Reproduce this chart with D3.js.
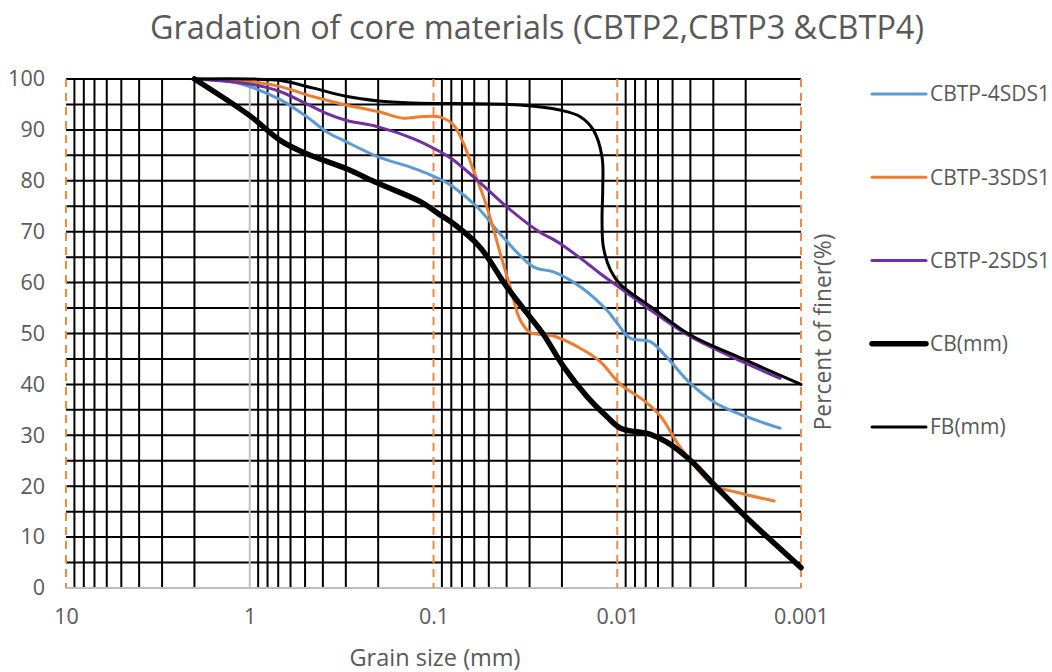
<!DOCTYPE html>
<html>
<head>
<meta charset="utf-8">
<script src="https://cdn.jsdelivr.net/npm/d3@7/dist/d3.min.js"></script>
<style>
  html, body { margin: 0; padding: 0; background: #fff; }
  svg { display: block; font-family: "Open Sans", "Noto Sans", sans-serif; }
</style>
</head>
<body>
<svg id="chart" width="1052" height="672"></svg>
<script>
// Grain size (mm) and percent finer for each sample
const cbtp4Size = [2, 1.28, 1, 0.68, 0.49, 0.38, 0.3, 0.2, 0.129, 0.092, 0.078, 0.058, 0.042, 0.0286, 0.0222, 0.0159, 0.0114, 0.01, 0.0085, 0.0066, 0.0054, 0.004, 0.0029, 0.002, 0.0013];
const cbtp4Pct  = [100, 99.5, 98.5, 95.9, 92.6, 89.6, 87.7, 84.7, 82.5, 80.3, 78.8, 74.9, 69, 63.1, 62.1, 59.2, 54.6, 52, 49.1, 48.4, 45.4, 40.2, 36.3, 33.7, 31.4];

const cbtp3Size = [2, 1, 0.68, 0.45, 0.3, 0.2, 0.146, 0.118, 0.092, 0.078, 0.0688, 0.0607, 0.0535, 0.0481, 0.0434, 0.0383, 0.0338, 0.0298, 0.0222, 0.0159, 0.0124, 0.0096, 0.0072, 0.0058, 0.0047, 0.0039, 0.003, 0.0023, 0.0014];
const cbtp3Pct  = [100, 99.5, 98.5, 96.5, 94.9, 93.6, 92.3, 92.6, 92.5, 91, 87.4, 82.1, 76.9, 71.6, 65.8, 59.2, 52.7, 50.2, 49.5, 47.1, 44.5, 40, 36.9, 33.7, 28.4, 24.5, 20.2, 18.9, 17.1];

const cbtp2Size = [2, 1, 0.68, 0.49, 0.38, 0.3, 0.2, 0.129, 0.092, 0.078, 0.058, 0.04, 0.0274, 0.0205, 0.0146, 0.0124, 0.0096, 0.0066, 0.004, 0.0021, 0.0013];
const cbtp2Pct  = [100, 99, 97.5, 95.1, 93.2, 91.9, 90.6, 88.3, 85.7, 84.1, 80.2, 74.9, 70.3, 67.7, 63.8, 61.8, 58.9, 54.6, 49.4, 44.5, 41.2];

const cbSize = [2, 1, 0.68, 0.49, 0.3, 0.2, 0.118, 0.092, 0.078, 0.056, 0.04, 0.031, 0.0252, 0.0196, 0.0146, 0.0114, 0.0096, 0.0066, 0.0054, 0.004, 0.0029, 0.002, 0.001];
const cbPct  = [100, 92.8, 87.9, 85.3, 82.4, 79.5, 75.9, 73.3, 71.6, 67, 59.2, 54, 49.8, 43.5, 37.6, 33.7, 31.4, 30.2, 28.7, 25.1, 19.9, 14, 4];

const fbSize = [2, 1, 0.68, 0.45, 0.3, 0.2, 0.129, 0.034, 0.0205, 0.0159, 0.0135, 0.0121, 0.012, 0.0121, 0.0119, 0.0109, 0.0096, 0.0066, 0.004, 0.0021, 0.001];
const fbPct  = [100, 100, 99.7, 98.2, 96.6, 95.7, 95.3, 94.9, 93.9, 92.6, 90, 84.7, 78.2, 72.3, 67, 62.5, 59.6, 55.3, 49.7, 45.1, 40];

const seriesNames = ["CBTP-4SDS1", "CBTP-3SDS1", "CBTP-2SDS1", "CB(mm)", "FB(mm)"];
const xTickValues = [10, 1, 0.1, 0.01, 0.001];
const xTickLabels = ["10", "1", "0.1", "0.01", "0.001"];
const yTickValues = [0, 10, 20, 30, 40, 50, 60, 70, 80, 90, 100];
const decadeMarks = [10, 0.1, 0.01, 0.001];

const titleText = "Gradation of core materials (CBTP2,CBTP3 &CBTP4)";
const xTitle = "Grain size (mm)";
const yTitle = "Percent of finer(%)";

const series = [
  { name: seriesNames[0], size: cbtp4Size, pct: cbtp4Pct, color: "#5B9BD5", width: 3 },
  { name: seriesNames[1], size: cbtp3Size, pct: cbtp3Pct, color: "#ED7D31", width: 3 },
  { name: seriesNames[2], size: cbtp2Size, pct: cbtp2Pct, color: "#7030A0", width: 3 },
  { name: seriesNames[3], size: cbSize,    pct: cbPct,    color: "#000000", width: 5.5 },
  { name: seriesNames[4], size: fbSize,    pct: fbPct,    color: "#000000", width: 3 }
];

const svg = d3.select("#chart");
const plotLeft = 66, plotRight = 801, plotTop = 79, plotBottom = 588;

const x = d3.scaleLog().domain([10, 0.001]).range([plotLeft, plotRight]);
const y = d3.scaleLinear().domain([0, 100]).range([plotBottom, plotTop]);

// Title
svg.append("text")
  .attr("x", 537).attr("y", 39)
  .attr("text-anchor", "middle")
  .attr("font-size", 32.4)
  .attr("fill", "#595959")
  .text(titleText);

const grid = svg.append("g");

// Horizontal grid every 5 %
grid.selectAll("line.h")
  .data(d3.range(5, 101, 5))
  .join("line")
  .attr("x1", plotLeft).attr("x2", plotRight)
  .attr("y1", d => y(d)).attr("y2", d => y(d))
  .attr("stroke", "#000").attr("stroke-width", 2);

// Vertical log grid (intermediate values of each decade)
const minorTicks = x.ticks().filter(v => Math.abs(Math.log10(v) - Math.round(Math.log10(v))) > 1e-6);
grid.selectAll("line.v")
  .data(minorTicks)
  .join("line")
  .attr("x1", d => x(d)).attr("x2", d => x(d))
  .attr("y1", plotTop).attr("y2", plotBottom)
  .attr("stroke", "#000").attr("stroke-width", 2);

// Line at 1 mm
grid.append("line")
  .attr("x1", x(1)).attr("x2", x(1))
  .attr("y1", plotTop).attr("y2", plotBottom)
  .attr("stroke", "#BFBFBF").attr("stroke-width", 2);

// Baseline
grid.append("line")
  .attr("x1", plotLeft).attr("x2", plotRight)
  .attr("y1", y(0)).attr("y2", y(0))
  .attr("stroke", "#BFBFBF").attr("stroke-width", 2);

// Dashed decade markers
grid.selectAll("line.d")
  .data(decadeMarks)
  .join("line")
  .attr("x1", d => x(d)).attr("x2", d => x(d))
  .attr("y1", plotTop).attr("y2", plotBottom)
  .attr("stroke", "#F08A45").attr("stroke-width", 2)
  .attr("stroke-dasharray", "8,6");

// Axes labels
const xAxis = d3.axisBottom(x)
  .tickValues(xTickValues)
  .tickFormat((d, i) => xTickLabels[i])
  .tickSize(0).tickPadding(21);
const gx = svg.append("g").attr("transform", `translate(0,${plotBottom})`).call(xAxis);
gx.select(".domain").remove();
gx.selectAll("text").attr("font-size", 21.5).attr("fill", "#595959").attr("font-family", "Open Sans");

const yAxis = d3.axisLeft(y)
  .tickValues(yTickValues)
  .tickFormat(d3.format("d"))
  .tickSize(0).tickPadding(21);
const gy = svg.append("g").attr("transform", `translate(${plotLeft},0)`).call(yAxis);
gy.select(".domain").remove();
gy.selectAll("text").attr("font-size", 21.5).attr("fill", "#595959").attr("font-family", "Open Sans");

// Axis titles
svg.append("text")
  .attr("x", 435).attr("y", 666)
  .attr("text-anchor", "middle")
  .attr("font-size", 23.5).attr("fill", "#595959")
  .text(xTitle);

svg.append("text")
  .attr("transform", "translate(831,332) rotate(-90)")
  .attr("text-anchor", "middle")
  .attr("font-size", 22.8).attr("fill", "#595959")
  .text(yTitle);

// Data lines
const line = d3.line()
  .x(d => x(d[0]))
  .y(d => y(d[1]))
  .curve(d3.curveCatmullRom.alpha(0.5));

svg.append("g").selectAll("path")
  .data(series)
  .join("path")
  .attr("d", s => line(s.size.map((v, i) => [v, s.pct[i]])))
  .attr("fill", "none")
  .attr("stroke", s => s.color)
  .attr("stroke-width", s => s.width)
  .attr("stroke-linejoin", "round")
  .attr("stroke-linecap", "round");

// Legend
const legend = svg.append("g");
const legendY = d3.scalePoint().domain(seriesNames).range([94, 427]);
const items = legend.selectAll("g").data(series).join("g")
  .attr("transform", s => `translate(872,${legendY(s.name)})`);
items.append("line")
  .attr("x1", 0).attr("x2", 54)
  .attr("stroke", s => s.color)
  .attr("stroke-width", s => s.width)
  .attr("stroke-linecap", "round");
items.append("text")
  .attr("x", 58).attr("dy", "0.35em")
  .attr("font-size", 21).attr("fill", "#595959")
  .text(s => s.name);
</script>
</body>
</html>
